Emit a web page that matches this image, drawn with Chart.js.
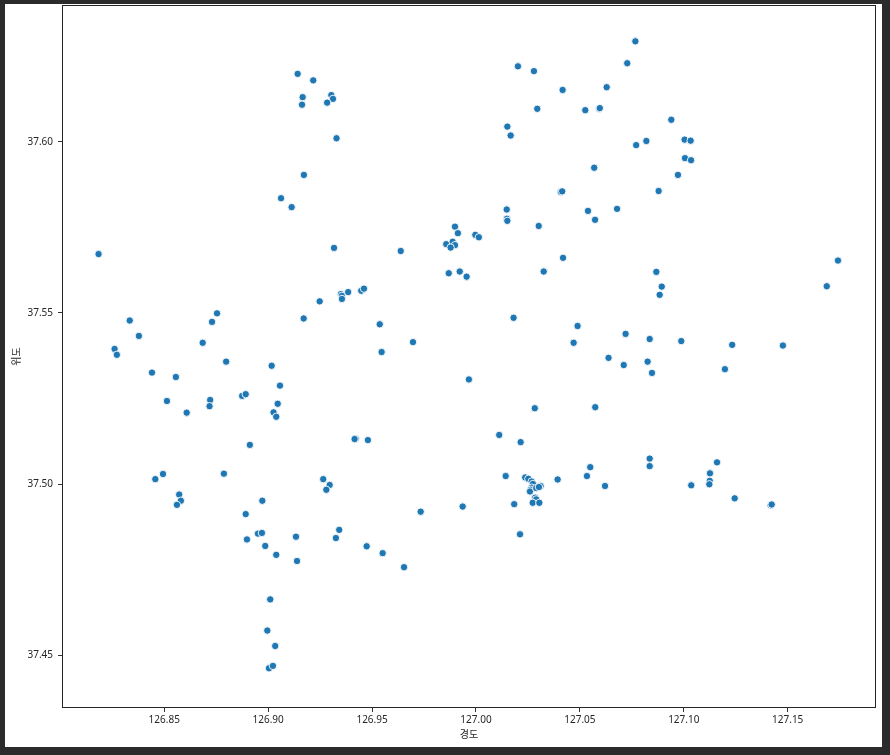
<!DOCTYPE html>
<html>
<head>
<meta charset="utf-8">
<script src="https://cdn.jsdelivr.net/npm/chart.js@4/dist/chart.umd.min.js"></script>
<style>
  html, body { margin: 0; padding: 0; background: #2b2b2b; width: 890px; height: 755px; overflow: hidden; }
  .frame { position: absolute; left: 5px; top: 4px; width: 877px; height: 743px; background: #fff; }
</style>
</head>
<body>
<div class="frame"><canvas id="geo-scatter" width="877" height="743"></canvas></div>
<script>
// 경도 / 위도 of each point
const lon = [
  126.9142, 126.9217, 126.9166, 126.9163, 126.9304, 126.9312, 126.9284, 126.9329, 126.9172, 126.9062,
  126.9113, 127.0202, 127.0279, 127.0417, 127.0629, 127.0295, 127.0526, 127.0593, 127.0596, 127.0151,
  127.0167, 127.0569, 127.0408, 127.0415, 127.0148, 127.0149, 127.0151, 127.0302, 127.0539, 127.0573,
  126.9899, 126.9913, 126.9997, 127.0014, 126.9857, 126.9888, 126.9899, 126.9878, 127.0767, 127.0728,
  127.0940, 127.0820, 127.0771, 127.1004, 127.1033, 127.1006, 127.1035, 127.0972, 127.0879, 127.0679,
  126.8184, 126.9317, 126.9248, 126.9171, 126.8334, 126.8378, 126.8261, 126.8272, 126.8754, 126.8730,
  126.8685, 126.8798, 126.9017, 126.9057, 126.8441, 126.8556, 126.8875, 126.8892, 126.9046, 126.9026,
  126.9039, 126.8513, 126.8608, 126.8721, 126.8718, 126.8912, 126.8494, 126.8457, 126.8787, 126.9265,
  126.9638, 126.9869, 126.9922, 126.9955, 127.0419, 127.0326, 126.9350, 126.9355, 126.9385, 126.9355,
  126.9448, 126.9461, 126.9537, 126.9546, 126.9697, 127.0181, 127.0489, 127.0470, 127.0638, 126.9966,
  127.0283, 127.0574, 126.9421, 126.9416, 126.9480, 127.0112, 127.0215, 127.0550, 127.0534, 127.0143,
  127.0393, 127.0237, 127.0252, 127.0268, 127.0274, 127.0268, 127.0263, 127.0260, 127.0290, 127.0311,
  127.0303, 127.0285, 127.0290, 127.0273, 127.0305, 127.0184, 127.0212, 127.0621, 126.9734, 126.9936,
  126.9342, 126.9326, 126.9474, 126.9551, 126.9654, 127.1742, 127.1688, 127.0868, 127.0894, 127.0884,
  127.0720, 127.0836, 127.0988, 127.1233, 127.1477, 127.0711, 127.0826, 127.0847, 127.1198, 127.0836,
  127.0836, 127.1160, 127.1126, 127.1125, 127.1123, 127.1036, 127.1245, 127.1418, 127.1423, 126.9296,
  126.9280, 126.8572, 126.8580, 126.8561, 126.8972, 126.8892, 126.8898, 126.8951, 126.8970, 126.8986,
  126.9039, 126.9134, 126.9139, 126.9010, 126.8996, 126.9034, 126.9004, 126.9023
];
const lat = [
  37.6198, 37.6179, 37.6130, 37.6108, 37.6136, 37.6125, 37.6114, 37.6010, 37.5903, 37.5835,
  37.5809, 37.6220, 37.6206, 37.6151, 37.6159, 37.6096, 37.6092, 37.6096, 37.6098, 37.6044,
  37.6018, 37.5924, 37.5853, 37.5855, 37.5802, 37.5775, 37.5769, 37.5754, 37.5798, 37.5772,
  37.5752, 37.5733, 37.5728, 37.5721, 37.5701, 37.5708, 37.5698, 37.5691, 37.6293, 37.6229,
  37.6064, 37.6002, 37.5990, 37.6006, 37.6003, 37.5952, 37.5946, 37.5903, 37.5856, 37.5804,
  37.5672, 37.5690, 37.5534, 37.5484, 37.5478, 37.5433, 37.5395, 37.5378, 37.5499, 37.5474,
  37.5413, 37.5358, 37.5346, 37.5288, 37.5326, 37.5313, 37.5258, 37.5263, 37.5235, 37.5210,
  37.5197, 37.5243, 37.5209, 37.5246, 37.5228, 37.5115, 37.5030, 37.5015, 37.5031, 37.5015,
  37.5681, 37.5616, 37.5621, 37.5606, 37.5661, 37.5621, 37.5555, 37.5550, 37.5561, 37.5541,
  37.5565, 37.5571, 37.5467, 37.5386, 37.5415, 37.5486, 37.5462, 37.5413, 37.5369, 37.5306,
  37.5222, 37.5225, 37.5133, 37.5132, 37.5129, 37.5144, 37.5123, 37.5050, 37.5024, 37.5024,
  37.5014, 37.5020, 37.5016, 37.5008, 37.5001, 37.4990, 37.4984, 37.4979, 37.4989, 37.4995,
  37.4992, 37.4961, 37.4956, 37.4946, 37.4946, 37.4942, 37.4854, 37.4995, 37.4920, 37.4935,
  37.4867, 37.4843, 37.4819, 37.4799, 37.4758, 37.5653, 37.5578, 37.5620, 37.5577, 37.5553,
  37.5439, 37.5424, 37.5418, 37.5407, 37.5405, 37.5348, 37.5358, 37.5325, 37.5336, 37.5075,
  37.5053, 37.5064, 37.5032, 37.5010, 37.5000, 37.4997, 37.4959, 37.4939, 37.4941, 37.4998,
  37.4984, 37.4970, 37.4952, 37.4940, 37.4952, 37.4913, 37.4839, 37.4856, 37.4858, 37.4820,
  37.4794, 37.4847, 37.4776, 37.4664, 37.4573, 37.4528, 37.4463, 37.4470
];

const xTicks = [126.85, 126.90, 126.95, 127.00, 127.05, 127.10, 127.15];
const yTicks = [37.45, 37.50, 37.55, 37.60];

const tickFont = { family: "'Noto Sans', 'DejaVu Sans', sans-serif", size: 10 };
const titleFont = { family: "'Noto Sans CJK KR', 'Noto Sans', sans-serif", size: 10 };

// top and right spines, matplotlib-style box
const boxPlugin = {
  id: 'box',
  afterDraw(chart) {
    const { ctx, chartArea: a } = chart;
    ctx.save();
    ctx.strokeStyle = '#262626';
    ctx.lineWidth = 1;
    ctx.strokeRect(a.left + 0.5, a.top + 0.5, a.right - a.left - 1, a.bottom - a.top - 1);
    ctx.restore();
  },
};

const noPad = (scale) => {
  scale.paddingTop = 0;
  scale.paddingBottom = 0;
  scale.paddingLeft = 0;
  scale.paddingRight = 0;
};

new Chart(document.getElementById('geo-scatter'), {
  type: 'scatter',
  data: {
    datasets: [
      {
        data: lon.map((x, i) => ({ x, y: lat[i] })),
        backgroundColor: '#1f77b4',
        borderColor: '#ffffff',
        borderWidth: 0.9,
        pointRadius: 3.7,
        pointHoverRadius: 3.7,
      },
    ],
  },
  options: {
    responsive: false,
    devicePixelRatio: 1,
    animation: false,
    layout: { autoPadding: false, padding: { top: 1, right: 6, left: 0, bottom: 0 } },
    plugins: {
      legend: { display: false },
      tooltip: { enabled: false },
    },
    scales: {
      x: {
        type: 'linear',
        min: 126.8008,
        max: 127.1925,
        afterBuildTicks: (scale) => { scale.ticks = xTicks.map((v) => ({ value: v })); },
        afterFit: (scale) => {
          scale.height = 39;
          noPad(scale);
        },
        grid: { drawOnChartArea: false, drawTicks: true, tickLength: 4, color: '#333' },
        border: { display: false },
        ticks: {
          padding: 2,
          color: '#262626',
          font: tickFont,
          maxRotation: 0,
          callback: (v) => v.toFixed(2),
        },
        title: { display: true, text: '경도', color: '#262626', font: titleFont, padding: { top: 0, bottom: 7 } },
      },
      y: {
        type: 'linear',
        min: 37.4347,
        max: 37.6399,
        afterBuildTicks: (scale) => { scale.ticks = yTicks.map((v) => ({ value: v })); },
        afterFit: (scale) => {
          scale.width = 57;
          noPad(scale);
        },
        grid: { drawOnChartArea: false, drawTicks: true, tickLength: 4, color: '#333' },
        border: { display: false },
        ticks: {
          padding: 5,
          color: '#262626',
          font: tickFont,
          callback: (v) => v.toFixed(2),
        },
        title: { display: true, text: '위도', color: '#262626', font: titleFont, padding: { top: 5, bottom: 0 } },
      },
    },
  },
  plugins: [boxPlugin],
});
</script>
</body>
</html>
